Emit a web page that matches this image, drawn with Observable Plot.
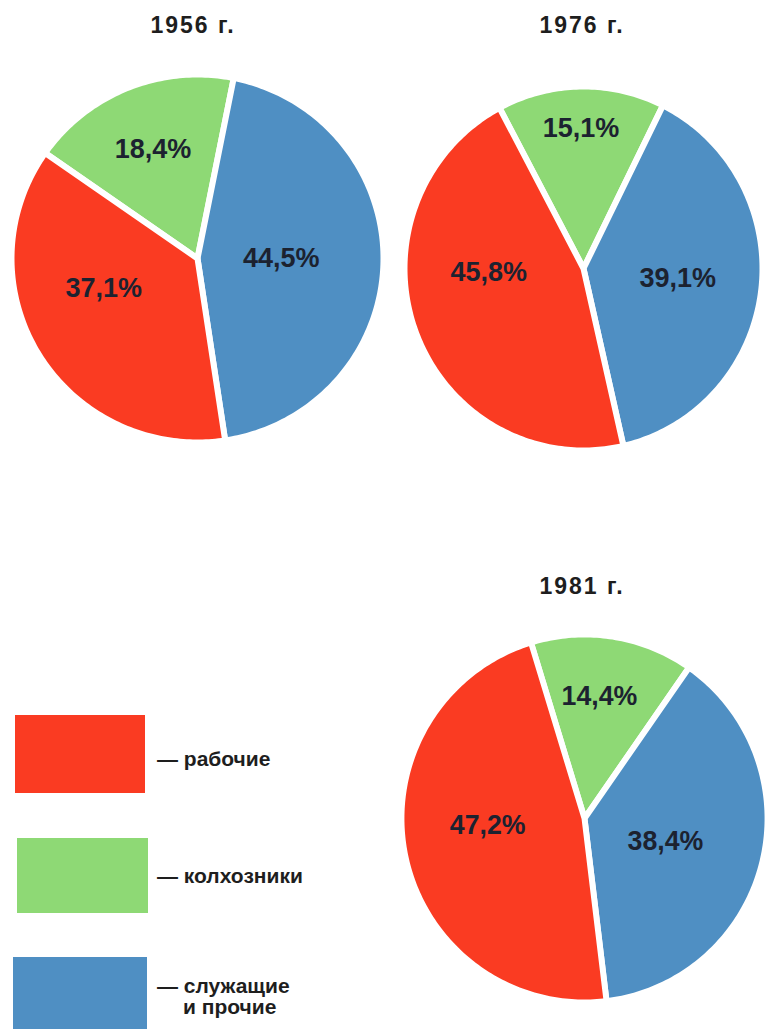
<!DOCTYPE html>
<html>
<head>
<meta charset="utf-8">
<script src="https://cdn.jsdelivr.net/npm/d3@7"></script>
<script src="https://cdn.jsdelivr.net/npm/@observablehq/plot@0.6"></script>
<style>
  html, body { margin: 0; padding: 0; background: #ffffff; }
  #page { position: relative; width: 771px; height: 1029px; overflow: hidden; font-family: "Liberation Sans", Arial, sans-serif; }
  .title { position: absolute; font-size: 23px; line-height: 23px; font-weight: bold; letter-spacing: 2px; color: #1e1e1e; white-space: nowrap; transform: translateX(-50%); }
  .pie { position: absolute; }
  .swatch { position: absolute; }
  .leg { position: absolute; font-size: 21px; line-height: 21px; font-weight: bold; color: #1e1e1e; white-space: nowrap; }
</style>
</head>
<body>
<div id="page"></div>
<script>
// ---- data ----
const years = ["1956 г.", "1976 г.", "1981 г."];
// categories in clockwise drawing order
const categories = ["колхозники", "служащие и прочие", "рабочие"];
const kolkhozniki = [18.4, 15.1, 14.4];
const sluzhashchie = [44.5, 39.1, 38.4];
const rabochie = [37.1, 45.8, 47.2];
const legendLabels = ["рабочие", "колхозники", "служащие\nи прочие"];
const legendKeys = ["рабочие", "колхозники", "служащие и прочие"];

// ---- styles / layout ----
const colors = ["#8ed975", "#4f8fc3", "#fa3b22"];
const pieLayout = [
  {cx: 197, cy: 258, rx: 186, ry: 184, start: -55, titleX: 193, titleBase: 33},
  {cx: 583, cy: 268, rx: 179, ry: 182, start: -28, titleX: 582, titleBase: 33},
  {cx: 586, cy: 820, rx: 185, ry: 186, start: -17, titleX: 582, titleBase: 594}
];
// label placement per chart, per category: [angle in degrees clockwise from top, fraction of radius]
const labelPlacement = [
  [[-22, 0.64], [90, 0.45], [-108, 0.53]],
  [[-1, 0.77], [96, 0.53], [-92, 0.53]],
  [[7, 0.67], [106, 0.46], [-94, 0.53]]
];
const legendLayout = [
  {x: 15, y: 715, w: 130, h: 78, textTop: [748]},
  {x: 17, y: 838, w: 131, h: 75, textTop: [865]},
  {x: 13, y: 957, w: 134, h: 75, textTop: [975, 996]}
];

const page = document.getElementById("page");
const color = {domain: categories, range: colors};
const fmt = v => String(v).replace(".", ",") + "%";

years.forEach((year, i) => {
  const L = pieLayout[i];
  const values = [kolkhozniki[i], sluzhashchie[i], rabochie[i]];
  const a0 = L.start * Math.PI / 180;
  const arcs = d3.pie().sort(null).startAngle(a0).endAngle(a0 + 2 * Math.PI)(values);
  const pts = [];
  arcs.forEach((arc, j) => {
    const k = categories[j];
    pts.push({k, x: 0, y: 0});
    const n = Math.max(8, Math.ceil((arc.endAngle - arc.startAngle) / (Math.PI / 180)));
    for (let s = 0; s <= n; s++) {
      const a = arc.startAngle + (arc.endAngle - arc.startAngle) * s / n;
      pts.push({k, x: Math.sin(a), y: Math.cos(a)});
    }
    pts.push({k, x: 0, y: 0});
  });
  const labels = arcs.map((arc, j) => {
    const [ang, rf] = labelPlacement[i][j];
    const a = ang * Math.PI / 180;
    return {k: categories[j], x: rf * Math.sin(a), y: rf * Math.cos(a), text: fmt(values[j])};
  });
  const pad = 4;
  const w = 2 * (L.rx + pad), h = 2 * (L.ry + pad);
  const ex = (L.rx + pad) / L.rx, ey = (L.ry + pad) / L.ry;
  const chart = Plot.plot({
    width: w,
    height: h,
    margin: 0,
    x: {domain: [-ex, ex], axis: null},
    y: {domain: [-ey, ey], axis: null},
    color,
    style: {background: "transparent", overflow: "visible"},
    marks: [
      Plot.line(pts, {x: "x", y: "y", z: "k", fill: "k", stroke: "#ffffff", strokeWidth: 6, strokeLinejoin: "round", curve: "linear"}),
      Plot.text(labels, {x: "x", y: "y", text: "text", fill: "#1c2230", fontSize: 27, fontWeight: "bold", fontFamily: "Liberation Sans, Arial, sans-serif"})
    ]
  });
  const wrap = document.createElement("div");
  wrap.className = "pie";
  wrap.style.left = (L.cx - L.rx - pad) + "px";
  wrap.style.top = (L.cy - L.ry - pad) + "px";
  wrap.appendChild(chart);
  page.appendChild(wrap);

  const t = document.createElement("div");
  t.className = "title";
  t.textContent = year;
  t.style.left = L.titleX + "px";
  t.style.top = (L.titleBase - 0.8465 * 23) + "px";
  page.appendChild(t);
});

// legend
const colorScale = d3.scaleOrdinal(categories, colors);
legendKeys.forEach((k, i) => {
  const G = legendLayout[i];
  const sw = document.createElement("div");
  sw.className = "swatch";
  Object.assign(sw.style, {left: G.x + "px", top: G.y + "px", width: G.w + "px", height: G.h + "px", background: colorScale(k)});
  page.appendChild(sw);
  const lines = legendLabels[i].split("\n");
  lines.forEach((line, li) => {
    const d = document.createElement("div");
    d.className = "leg";
    d.textContent = (li === 0 ? "— " : "") + line;
    d.style.left = (li === 0 ? 157 : 183) + "px";
    d.style.top = G.textTop[li] + "px";
    page.appendChild(d);
  });
});
</script>
</body>
</html>
